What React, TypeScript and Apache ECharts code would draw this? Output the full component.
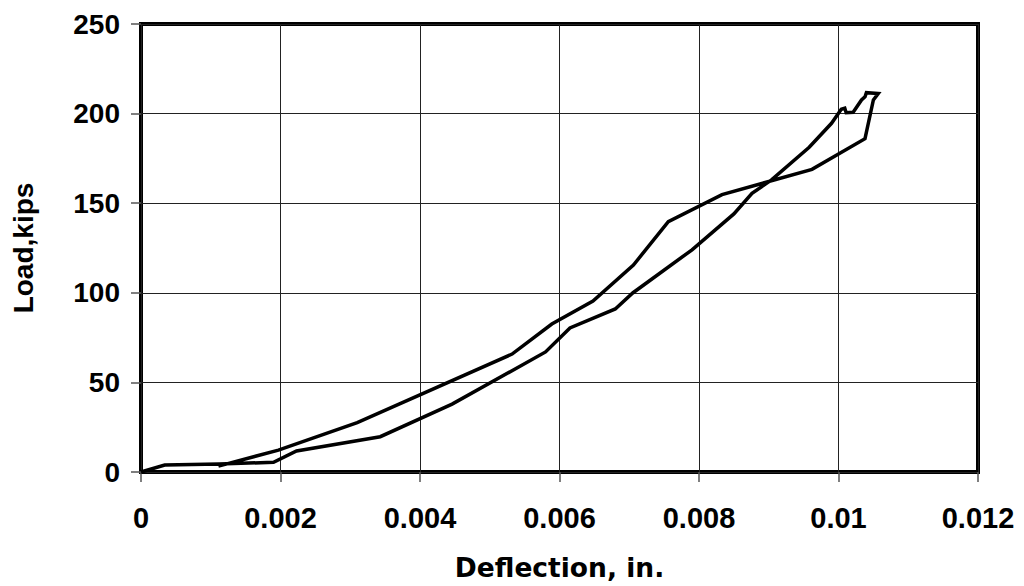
import React, { useEffect, useRef } from "react";
import * as echarts from "echarts";

const deflection: number[] = [
  0, 0.00034, 0.00112, 0.0019, 0.00223, 0.00343, 0.00446, 0.0058, 0.00615, 0.0068,
  0.00705, 0.0079, 0.0085, 0.00876, 0.00904, 0.00958, 0.0099, 0.01004, 0.01009, 0.01011,
  0.01021, 0.01033, 0.01038, 0.0104, 0.01057,
  0.0105, 0.01038, 0.00962, 0.00833, 0.00756, 0.00706, 0.00648, 0.00589, 0.00532, 0.0031,
  0.00197, 0.00111,
];
const load: number[] = [
  0, 3.9, 4.5, 5.4, 11.7, 19.7, 37.9, 67, 80.4, 91,
  99.9, 124, 144, 155.5, 163, 181.2, 194.6, 202.4, 203, 200.5,
  200.7, 207.6, 209.4, 211.7, 211.2,
  207.6, 186, 168.9, 154.8, 139.7, 115.5, 95.4, 82.6, 65.8, 27.5,
  12.2, 3.3,
];

const xTitle = "Deflection, in.";
const yTitle = "Load,kips";

export default function App() {
  const ref = useRef<HTMLDivElement>(null);
  useEffect(() => {
    if (!ref.current) return;
    const chart = echarts.init(ref.current, null, { renderer: "svg" });
    const font = "'Liberation Sans', Arial, sans-serif";
    const wideFont = "'DejaVu Sans', 'Liberation Sans', sans-serif";
    chart.setOption({
      animation: false,
      backgroundColor: "#fff",
      grid: {
        left: 141,
        right: 46,
        top: 24,
        bottom: 114,
        show: true,
        borderColor: "#000",
        borderWidth: 4,
        backgroundColor: "transparent",
      },
      xAxis: {
        type: "value",
        min: 0,
        max: 0.012,
        interval: 0.002,
        name: xTitle,
        nameLocation: "middle",
        nameGap: 82,
        nameTextStyle: { fontFamily: wideFont, fontWeight: "bold", fontSize: 26.5, color: "#000" },
        axisLine: { show: false },
        axisTick: { show: true, length: 10, lineStyle: { color: "#555", width: 1.5 } },
        axisLabel: {
          margin: 31,
          fontFamily: font,
          fontWeight: "bold",
          fontSize: 29,
          color: "#000",
          formatter: (v: number) => String(+v.toFixed(4)),
        },
        splitLine: { show: true, lineStyle: { color: "#222", width: 1 } },
      },
      yAxis: {
        type: "value",
        min: 0,
        max: 250,
        interval: 50,
        name: yTitle,
        nameLocation: "middle",
        nameGap: 104,
        nameTextStyle: { fontFamily: font, fontWeight: "bold", fontSize: 28, color: "#000" },
        axisLine: { show: false },
        axisTick: { show: true, length: 10, lineStyle: { color: "#555", width: 1.5 } },
        axisLabel: {
          margin: 21,
          fontFamily: font,
          fontWeight: "bold",
          fontSize: 28,
          color: "#000",
        },
        splitLine: { show: true, lineStyle: { color: "#222", width: 1 } },
      },
      series: [
        {
          type: "line",
          data: deflection.map((d, i) => [d, load[i]]),
          showSymbol: false,
          symbol: "none",
          lineStyle: { color: "#000", width: 3.5, join: "miter" },
          clip: false,
        },
      ],
    });
    return () => chart.dispose();
  }, []);
  return (
    <div
      ref={ref}
      style={{ position: "absolute", left: 0, top: 0, width: 1024, height: 586 }}
    />
  );
}
